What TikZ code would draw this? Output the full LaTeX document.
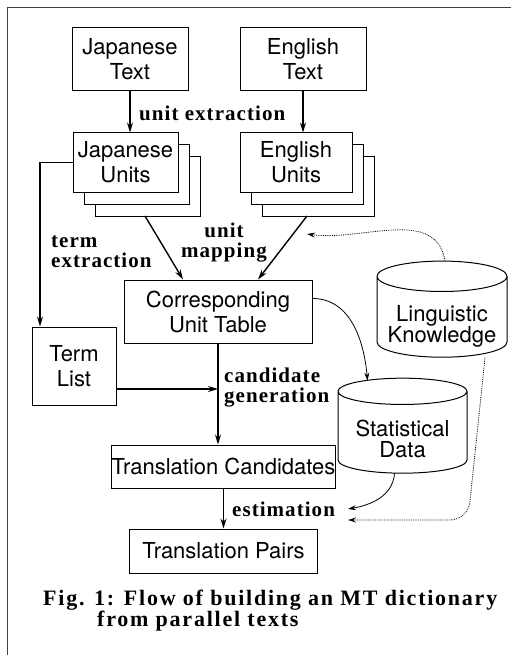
\documentclass[tikz,border=0pt]{standalone}
\usepackage{fontspec}
\newfontfamily\boxfont{TeX Gyre Heros}
\newfontfamily\labelfont[LetterSpace=5]{Liberation Serif}
\newfontfamily\capfont[LetterSpace=8]{Liberation Serif}
\usepackage{tikz}
\usetikzlibrary{arrows.meta,positioning,shapes.geometric,shadows}

\begin{document}
\begin{tikzpicture}[x=1pt,y=1pt]
            \tikzstyle{block} = [draw, rectangle, line width=1pt, fill=white, inner sep=0pt, align=center, font=\boxfont\fontsize{22}{25}\selectfont]
            \tikzstyle{stack} = [block, double copy shadow={shadow xshift=11pt, shadow yshift=-12pt}]
            \tikzstyle{store} = [draw, cylinder, shape border rotate=90, aspect=0.28, line width=1pt, inner sep=0pt, align=center, text height=50pt, text depth=-8pt, font=\boxfont\fontsize{22}{21}\selectfont]
            \tikzstyle{lbl} = [inner sep=0pt, align=left, font=\labelfont\bfseries\fontsize{21}{20}\selectfont]
            \tikzstyle{flow} = [-{Stealth[length=10pt,width=6pt]}, line width=1.4pt]
            \tikzstyle{feed} = [-{Stealth[length=8pt,width=5pt]}, line width=0.8pt]
            \tikzstyle{hint} = [feed, densely dotted]

            \useasboundingbox (0,0) rectangle (511,-655);
            \draw[line width=0.8pt, black!75] (7,-655) -- (7,-7) -- (511,-7);

            \node [block, minimum width=116pt, minimum height=63pt] (jtext) at (130,-59.5) {Japanese\\Text};
            \node [block, minimum width=126pt, minimum height=63pt] (etext) at (303,-59.5) {English\\Text};
            \node [stack, minimum width=105pt, minimum height=59pt] (junits) at (125.5,-162.5) {Japanese\\Units};
            \node [stack, minimum width=112pt, minimum height=59pt] (eunits) at (296,-162.5) {English\\Units};
            \node [block, minimum width=188pt, minimum height=63pt] (corr) at (218,-311.5) {Corresponding\\Unit Table};
            \node [block, minimum width=84pt, minimum height=78pt] (term) at (74,-366) {Term\\List};
            \node [block, minimum width=199pt, minimum height=43pt] (cand) at (223.5,-466.5) {Translation Candidates};
            \node [block, minimum width=188pt, minimum height=44pt, below = 40pt of cand] (pairs) {Translation Pairs};
            \node [store, minimum width=130pt, minimum height=90pt] (ling) at (442,-317) {Linguistic\\Knowledge};
            \node [store, minimum width=129pt, minimum height=95pt] (stat) at (402.5,-432.5) {Statistical\\Data};

            \coordinate (jstack) at (145,-216);
            \coordinate (estack) at (307,-216);
            \coordinate (lingin) at (307,-234);
            \coordinate (est1) at (348,-509);
            \coordinate (est2) at (348,-520);

            \node [lbl, anchor=west] (extr) at (139,-113) {unit extraction};
            \node [lbl, align=center] (mapp) at (224,-243) {unit\\mapping};
            \node [lbl, anchor=west] (termx) at (51,-252) {term\\extraction};
            \node [lbl, anchor=west] (gen) at (224,-388) {candidate\\generation};
            \node [lbl, anchor=west] (estim) at (232,-509) {estimation};
            \node [anchor=west, inner sep=0pt, align=left, font=\capfont\bfseries\fontsize{22}{21}\selectfont] (caption) at (43,-611) {Fig. 1: Flow of building an MT dictionary\\\hspace*{54pt}from parallel texts};

            \draw [flow] (jtext.south) -- (jtext.south |- junits.north);
            \draw [flow] (etext.south) -- (etext.south |- eunits.north);
            \draw [flow] (jstack) -- ([xshift=-35pt]corr.north);
            \draw [flow] (estack) -- ([xshift=40pt]corr.north);
            \draw [flow] (junits.west) -| ([xshift=-34pt]term.north);
            \draw [flow] (corr.south) -- (corr.south |- cand.north);
            \draw [flow] ([yshift=-23pt]term.east) -- ([yshift=-23pt]term.east -| corr.south);
            \draw [flow] (cand.south) -- (cand.south |- pairs.north);
            \draw [feed] ([yshift=13pt]corr.east) to[out=0,in=95] ([xshift=-35pt,yshift=-3pt]stat.north);
            \draw [hint] ([xshift=3pt]ling.north) to[out=100,in=-8] (lingin);
            \draw [feed] ([xshift=-8pt]stat.south) to[out=-95,in=10] (est1);
            \draw [hint, rounded corners=18pt] ([xshift=43pt]ling.south) -- (468,-520) -- (est2);
\end{tikzpicture}
\end{document}
